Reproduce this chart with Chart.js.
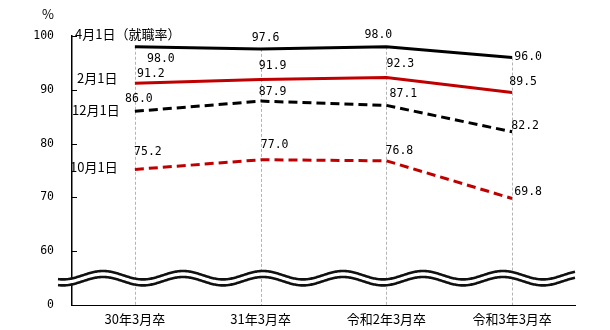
<!DOCTYPE html>
<html>
<head>
<meta charset="utf-8">
<script src="https://cdn.jsdelivr.net/npm/chart.js@4"></script>
<style>
  body { margin: 0; background: #fff; }
  canvas { display: block; }
</style>
</head>
<body>
<canvas id="rateChart" width="610" height="330"></canvas>
<script>
// categories and series (%)
const categories = ["30年3月卒", "31年3月卒", "令和2年3月卒", "令和3年3月卒"];
const seriesNames = ["4月1日（就職率）", "2月1日", "12月1日", "10月1日"];
const apr1 = [98.0, 97.6, 98.0, 96.0];
const feb1 = [91.2, 91.9, 92.3, 89.5];
const dec1 = [86.0, 87.9, 87.1, 82.2];
const oct1 = [75.2, 77.0, 76.8, 69.8];
// y ticks; 50 sits below the axis break and is labelled "0"
const yTicks = [100, 90, 80, 70, 60, 50];

const numFont = "11.5px 'DejaVu Sans Mono', monospace";
const jpFont = "13px 'Noto Sans CJK JP', sans-serif";

// label nudges [dx, dy] per series / point
const labelOffsets = [
  [[26, 12], [5, -11], [-8, -12], [16, -1]],
  [[16, -9], [12, -14], [14, -13], [11, -10]],
  [[4, -12], [12, -9], [17, -11], [13, -6]],
  [[13, -17], [14, -15], [13, -10], [16, -6]]
];
// where the series names sit on the left
const namePos = [[75, 34], [77, 78], [72, 110], [70, 167]];

const extras = {
  id: "extras",
  beforeDatasetsDraw(chart) {
    const ctx = chart.ctx;
    const area = chart.chartArea;
    ctx.save();
    ctx.strokeStyle = "#b4b4b4";
    ctx.lineWidth = 1;
    ctx.setLineDash([3, 2]);
    chart.getDatasetMeta(0).data.forEach(pt => {
      const x = Math.round(pt.x) + 0.5;
      ctx.beginPath();
      ctx.moveTo(x, pt.y);
      ctx.lineTo(x, area.bottom);
      ctx.stroke();
    });
    ctx.restore();
  },
  afterDatasetsDraw(chart) {
    const ctx = chart.ctx;
    const area = chart.chartArea;
    const y = chart.scales.y;
    ctx.save();

    // inward tick marks
    ctx.strokeStyle = "#000";
    ctx.lineWidth = 1;
    yTicks.forEach(v => {
      const py = Math.round(y.getPixelForValue(v)) + 0.5;
      ctx.beginPath();
      ctx.moveTo(area.left, py);
      ctx.lineTo(area.left + 5, py);
      ctx.stroke();
    });

    // wavy axis break
    const x0 = 58, x1 = area.right, period = 80, amp = 4.2;
    const wave = (x, c) => c + amp * Math.cos(2 * Math.PI * (x - 63) / period);
    ctx.beginPath();
    for (let x = x0; x <= x1; x++) ctx.lineTo(x, wave(x, 275.2));
    for (let x = x1; x >= x0; x--) ctx.lineTo(x, wave(x, 281.2));
    ctx.closePath();
    ctx.fillStyle = "#fff";
    ctx.fill();
    ctx.lineWidth = 2.6;
    ctx.strokeStyle = "#111";
    [275.2, 281.2].forEach(c => {
      ctx.beginPath();
      for (let x = x0; x <= x1; x++) ctx.lineTo(x, wave(x, c));
      ctx.stroke();
    });

    // value labels
    ctx.fillStyle = "#000";
    ctx.font = numFont;
    ctx.textAlign = "center";
    ctx.textBaseline = "middle";
    chart.data.datasets.forEach((ds, i) => {
      chart.getDatasetMeta(i).data.forEach((pt, j) => {
        const [dx, dy] = labelOffsets[i][j];
        ctx.fillText(ds.data[j].toFixed(1), pt.x + dx, pt.y + dy);
      });
    });

    // series names and unit
    ctx.font = jpFont;
    ctx.textAlign = "left";
    seriesNames.forEach((name, i) => {
      ctx.fillText(name, namePos[i][0], namePos[i][1]);
    });
    ctx.fillText("%", 42, 14);
    ctx.restore();
  }
};

const ctx = document.getElementById("rateChart").getContext("2d");
new Chart(ctx, {
  type: "line",
  data: {
    labels: categories,
    datasets: [
      { label: seriesNames[0], data: apr1, borderColor: "#000", borderWidth: 3 },
      { label: seriesNames[1], data: feb1, borderColor: "#c00000", borderWidth: 3 },
      { label: seriesNames[2], data: dec1, borderColor: "#000", borderWidth: 3, borderDash: [9, 5] },
      { label: seriesNames[3], data: oct1, borderColor: "#c00000", borderWidth: 3, borderDash: [9, 5] }
    ]
  },
  options: {
    responsive: false,
    animation: false,
    layout: { padding: { top: 36, right: 35, bottom: 0, left: 0 } },
    elements: { point: { radius: 0 }, line: { tension: 0, fill: false } },
    plugins: { legend: { display: false }, tooltip: { enabled: false } },
    scales: {
      x: {
        offset: true,
        grid: { display: false, drawTicks: false },
        border: { display: true, color: "#000", width: 1 },
        ticks: { color: "#000", padding: 6, font: { family: "'Noto Sans CJK JP', sans-serif", size: 13 } },
        afterFit(scale) { scale.height = 25; }
      },
      y: {
        min: 50,
        max: 100,
        grid: { display: false, drawTicks: false },
        border: { display: true, color: "#000", width: 1.5 },
        afterBuildTicks(scale) { scale.ticks = yTicks.map(v => ({ value: v })); },
        ticks: {
          color: "#000",
          padding: 18,
          font: { family: "'DejaVu Sans Mono', monospace", size: 11.5 },
          callback: v => (v === 50 ? "0" : v)
        },
        afterFit(scale) { scale.width = 72; }
      }
    }
  },
  plugins: [extras]
});
</script>
</body>
</html>
